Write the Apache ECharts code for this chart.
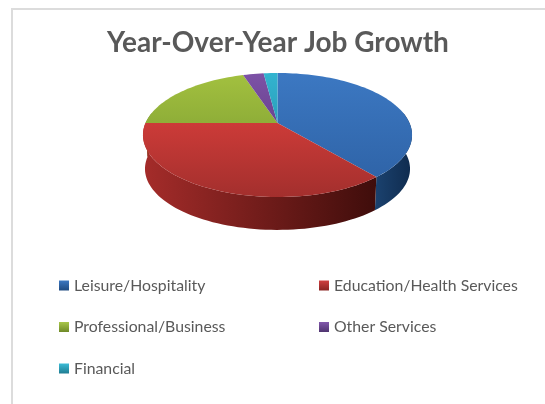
<!DOCTYPE html>
<html><head><meta charset="utf-8">
<style>html,body{margin:0;padding:0;background:#fff}#c{width:545px;height:404px}</style>
<script src="https://cdn.jsdelivr.net/npm/echarts@6/dist/echarts.min.js"></script>
</head><body><div id="c"></div>
<script>
const categories = ['Leisure/Hospitality','Education/Health Services','Professional/Business','Other Services','Financial'];
const values = [39,36,20,3,2];
const topColors = [['#3c78c2','#2f64a8'],['#cc3b38','#a32f2d'],['#a2c03f','#8fae38'],['#7d52a6','#6a4390'],['#33b4d0','#2a9fba']];
const wallColors = [['#1b426f','#0f2b4e'],['#a52c2a','#3f0d0b'],['#6f8a28','#5a7020'],['#4f3470','#402a5c'],['#1f7c92','#186a7d']];
const legendColors = [['#3c78c2','#1f4a80'],['#d04040','#8a2422'],['#a8c64a','#6f8a28'],['#8258ac','#4f3470'],['#3cbcd6','#1f7c92']];
const leftColumn = [0,2,4];
const rightColumn = [1,3];

const total = values.reduce((a,b)=>a+b,0);
const G = {ax:277.5, ay:123, rx:132, ry:59.7, k:0.1935, depth:34, shrink:0.985};
function project(deg, level){
  const t = deg*Math.PI/180, u = Math.sin(t), v = Math.cos(t), w = 1+G.k*v;
  const s = level ? G.shrink : 1, d = level ? G.depth : 0;
  return [G.ax + s*G.rx*u/w, G.ay + d + s*G.ry*(-v)/w];
}
function arcPts(a,b,level){
  const n = Math.max(2,Math.ceil(Math.abs(b-a)/2)), pts=[];
  for(let i=0;i<=n;i++) pts.push(project(a+(b-a)*i/n,level));
  return pts;
}
const lin = (c,x2,y2)=>new echarts.graphic.LinearGradient(0,0,x2,y2,[{offset:0,color:c[0]},{offset:1,color:c[1]}]);
function renderer(idx){
  return function(){
    let start=0; for(let i=0;i<idx;i++) start+=values[i]/total*360;
    const end=start+values[idx]/total*360;
    const kids=[];
    const a=Math.max(start,80), b=Math.min(end,280);
    if(b>a){
      const wall=arcPts(a,b,0).concat(arcPts(a,b,1).reverse());
      kids.push({type:'polygon',shape:{points:wall},style:{fill:lin(wallColors[idx],1,0)}});
    }
    const top=[[G.ax,G.ay]].concat(arcPts(start,end,0));
    kids.push({type:'polygon',shape:{points:top},style:{fill:lin(topColors[idx],0,1)},z2:10});
    return {type:'group',children:kids};
  };
}
const legendEntry = i=>({name:categories[i],icon:'rect',itemStyle:{color:lin(legendColors[i],0,1)}});
const legendBase = {orient:'vertical',itemWidth:10,itemHeight:10,itemGap:25.5,selectedMode:false,
  textStyle:{fontFamily:'Lato',fontSize:15.8,color:'#595959'}};
const chart = echarts.init(document.getElementById('c'),null,{renderer:'canvas'});
chart.setOption({
  animation:false,
  backgroundColor:'#fff',
  title:{text:'Year-Over-Year Job Growth',left:107,top:29,padding:0,
    textStyle:{fontFamily:'Lato',fontWeight:'bold',fontSize:28,color:'#595959'}},
  legend:[
    Object.assign({},legendBase,{left:54,top:272.5,data:leftColumn.map(legendEntry)}),
    Object.assign({},legendBase,{left:314,top:272.5,data:rightColumn.map(legendEntry)})
  ],
  graphic:[{type:'polyline',silent:true,shape:{points:[[12,404],[12,9],[545,9]]},style:{stroke:'#dcdcdc',lineWidth:2,fill:'none'}}],
  series:categories.map((name,i)=>({type:'custom',name,coordinateSystem:'none',
    itemStyle:{color:topColors[i][0]},renderItem:renderer(i),data:[values[i]],z:2+(i===1?1:0)}))
});
</script></body></html>
